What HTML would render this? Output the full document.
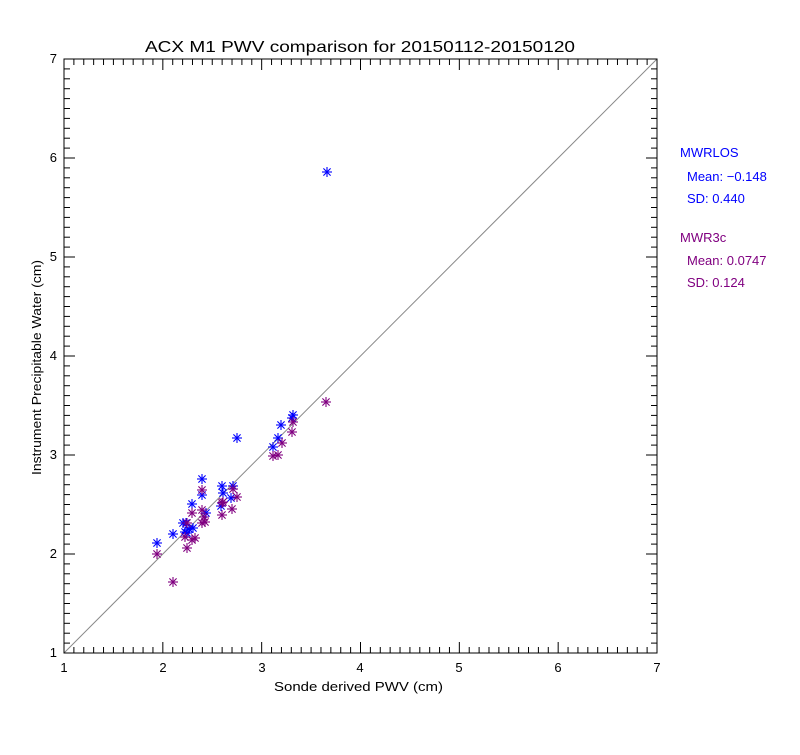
<!DOCTYPE html>
<html><head><meta charset="utf-8"><style>
body{margin:0;background:#fff;width:800px;height:750px;overflow:hidden}
svg text{font-family:"Liberation Sans",sans-serif;font-size:13px}
</style></head><body>
<svg id="s" width="800" height="750" xmlns="http://www.w3.org/2000/svg">
<rect x="0" y="0" width="800" height="750" fill="#fff"/>
<rect x="64" y="59" width="593" height="594" fill="none" stroke="#000" stroke-width="1"/>
<line x1="64" y1="653" x2="657" y2="59" stroke="#888" stroke-width="1"/>
<text x="145" y="52" textLength="430" lengthAdjust="spacingAndGlyphs" style="font-size:16px">ACX M1 PWV comparison for 20150112-20150120</text>
<g text-anchor="middle">
<text x="64" y="672">1</text><text x="163" y="672">2</text><text x="262" y="672">3</text><text x="360" y="672">4</text><text x="459" y="672">5</text><text x="558" y="672">6</text><text x="657" y="672">7</text>
</g>
<text x="274" y="691" textLength="169" lengthAdjust="spacingAndGlyphs">Sonde derived PWV (cm)</text>
<g text-anchor="end">
<text x="57" y="657">1</text><text x="57" y="558">2</text><text x="57" y="459">3</text><text x="57" y="360">4</text><text x="57" y="261">5</text><text x="57" y="162">6</text><text x="57" y="63">7</text>
</g>
<text transform="translate(41,475) rotate(-90)" textLength="215" lengthAdjust="spacingAndGlyphs">Instrument Precipitable Water (cm)</text>
<g fill="#0000ff"><text x="680" y="157">MWRLOS</text><text x="687" y="181">Mean: −0.148</text><text x="687" y="203">SD: 0.440</text></g>
<g fill="#800080"><text x="680" y="242">MWR3c</text><text x="687" y="265">Mean: 0.0747</text><text x="687" y="287">SD: 0.124</text></g>
<g id="t" stroke="#000" stroke-width="1"></g>
<g id="m" stroke-width="1.1"></g>
</svg>
<script>
var t=document.getElementById('t'),m=document.getElementById('m'),ns="http://www.w3.org/2000/svg";
function L(g,a,b,c,d,col){var l=document.createElementNS(ns,'line');l.setAttribute('x1',a);l.setAttribute('y1',b);l.setAttribute('x2',c);l.setAttribute('y2',d);if(col)l.setAttribute('stroke',col);g.appendChild(l);}
for(var i=0;i<=60;i++){var x=64+i*593/60,y=653-i*594/60,len=(i%10==0)?11:6;
L(t,x,653,x,653-len);L(t,x,59,x,59+len);L(t,64,y,64+len,y);L(t,657,y,657-len,y);}
function star(x,y,c){var r=5;L(m,x-r,y,x+r,y,c);L(m,x,y-r,x,y+r,c);L(m,x-3.6,y-3.6,x+3.6,y+3.6,c);L(m,x-3.6,y+3.6,x+3.6,y-3.6,c);}
var P=[[157,554],[173,582],[187,548],[185,537],[192,540],[195,538],[187,523],[192,513],[202,510],[202,490],[204,517],[205,522],[202,523],[222,515],[222,503],[223,502],[232,509],[237,497],[233,489],[273,456],[278,455],[282,443],[292,432],[293,422],[326,402]];
var B=[[157,543],[173,534],[185,532],[187,533],[189,529],[193,528],[183,523],[186,523],[192,504],[202,479],[202,495],[206,513],[222,486],[223,493],[221,506],[231,498],[233,486],[237,438],[273,447],[278,438],[281,425],[292,418],[293,415],[327,172]];
B.forEach(function(p){star(p[0],p[1],'#0000ff')});
P.forEach(function(p){star(p[0],p[1],'#800080')});
</script>
</body></html>
